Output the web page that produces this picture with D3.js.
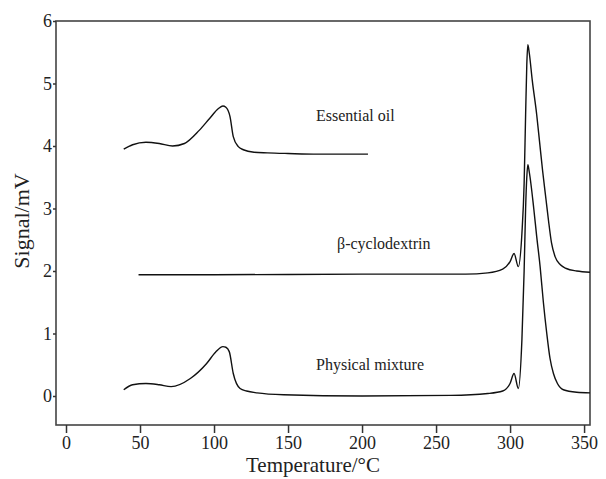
<!DOCTYPE html>
<html>
<head>
<meta charset="utf-8">
<script src="https://cdn.jsdelivr.net/npm/d3@7"></script>
<style>
  body { margin: 0; background: #fff; }
</style>
</head>
<body>
<script>
var w = 606;
var h = 479;
var serif = "'Liberation Serif', 'Times New Roman', serif";

// temperature (°C) / signal (mV)
var oilT = [39, 45, 54, 63, 72, 80, 90, 97, 103, 106, 108, 110.8, 113, 116.4, 119.8, 127, 136, 150, 170, 204];
var oilS = [3.95, 4.02, 4.06, 4.04, 4.00, 4.04, 4.25, 4.44, 4.60, 4.64, 4.62, 4.47, 4.15, 3.99, 3.94, 3.90, 3.89, 3.88, 3.87, 3.87];

var cdT = [49, 100, 200, 270, 285, 295, 300, 302.7, 305.6, 308, 309.5, 310.5, 311.3, 312, 313, 315, 318, 320, 322, 324.3, 326, 328, 330.4, 334, 338, 345, 354];
var cdS = [1.94, 1.94, 1.95, 1.95, 1.97, 2.03, 2.15, 2.28, 2.07, 2.6, 3.4, 4.5, 5.3, 5.62, 5.48, 5.05, 4.5, 4.05, 3.6, 3.14, 2.8, 2.45, 2.23, 2.1, 2.04, 2.0, 1.98];

var mixT = [39, 45, 54, 63, 71, 84, 95, 101, 106, 108, 110.3, 113, 117.6, 122, 129, 147, 200, 260, 285, 295, 300, 302.7, 305.6, 308, 309.5, 310.5, 311.3, 312, 313, 316, 318, 320.3, 322.5, 324.8, 327, 329.3, 332, 336, 345, 354];
var mixS = [0.10, 0.18, 0.20, 0.18, 0.15, 0.28, 0.52, 0.70, 0.79, 0.78, 0.71, 0.36, 0.12, 0.08, 0.05, 0.02, 0.0, 0.01, 0.04, 0.08, 0.2, 0.36, 0.12, 0.9, 2.0, 3.0, 3.5, 3.70, 3.58, 3.0, 2.55, 2.07, 1.5, 1.0, 0.6, 0.36, 0.2, 0.1, 0.06, 0.05];

var xTicks = [0, 50, 100, 150, 200, 250, 300, 350];
var yTicks = [0, 1, 2, 3, 4, 5, 6];

var labels = ["Essential oil", "β-cyclodextrin", "Physical mixture"];

// scales
var xScale = d3.scaleLinear().domain([-6.76, 354]).range([56, 590]);
var yScale = d3.scaleLinear().domain([-0.464, 6]).range([425, 21]);

var svg = d3.select("body").append("svg")
    .attr("width", w)
    .attr("height", h)
    .style("font-family", serif);

// frame
svg.append("rect")
    .attr("x", 56).attr("y", 21)
    .attr("width", 590 - 56).attr("height", 425 - 21)
    .attr("fill", "none")
    .attr("stroke", "#444")
    .attr("stroke-width", 1.6);

// axes
var xAxis = svg.append("g")
    .attr("transform", "translate(0,425)")
    .call(d3.axisBottom(xScale).tickValues(xTicks).tickSize(8).tickPadding(3).tickFormat(d3.format("d")));
xAxis.select(".domain").remove();
xAxis.selectAll("line").attr("stroke", "#333").attr("stroke-width", 1.5);
xAxis.selectAll("text").attr("font-size", 18).attr("fill", "#222")
    .style("font-family", serif);

var yAxis = svg.append("g")
    .attr("transform", "translate(56,0)")
    .call(d3.axisLeft(yScale).tickValues(yTicks).tickSize(3).tickPadding(1).tickFormat(d3.format("d")));
yAxis.select(".domain").remove();
yAxis.selectAll("line").attr("stroke", "#333").attr("stroke-width", 1.5);
yAxis.selectAll("text").attr("font-size", 18).attr("fill", "#222")
    .style("font-family", serif);

// axis titles
svg.append("text")
    .attr("x", 313).attr("y", 472)
    .attr("text-anchor", "middle")
    .attr("font-size", 21)
    .attr("fill", "#222")
    .style("font-family", serif)
    .text("Temperature/°C");

svg.append("text")
    .attr("transform", "translate(29,221) rotate(-90)")
    .attr("text-anchor", "middle")
    .attr("font-size", 22)
    .attr("fill", "#222")
    .style("font-family", serif)
    .text("Signal/mV");

// curves
var line = d3.line()
    .x(function(d) { return xScale(d[0]); })
    .y(function(d) { return yScale(d[1]); })
    .curve(d3.curveMonotoneX);

var series = [
    d3.zip(oilT, oilS),
    d3.zip(cdT, cdS),
    d3.zip(mixT, mixS)
];

svg.selectAll("path.curve")
    .data(series)
    .enter()
    .append("path")
    .attr("class", "curve")
    .attr("d", line)
    .attr("fill", "none")
    .attr("stroke", "#111")
    .attr("stroke-width", 1.4);

// curve labels
var labelPos = [[316, 121], [337, 249], [316, 370]];
svg.selectAll("text.lbl")
    .data(labels)
    .enter()
    .append("text")
    .attr("class", "lbl")
    .attr("x", function(d, i) { return labelPos[i][0]; })
    .attr("y", function(d, i) { return labelPos[i][1]; })
    .attr("font-size", 16)
    .attr("fill", "#222")
    .style("font-family", serif)
    .text(function(d) { return d; });
</script>
</body>
</html>
